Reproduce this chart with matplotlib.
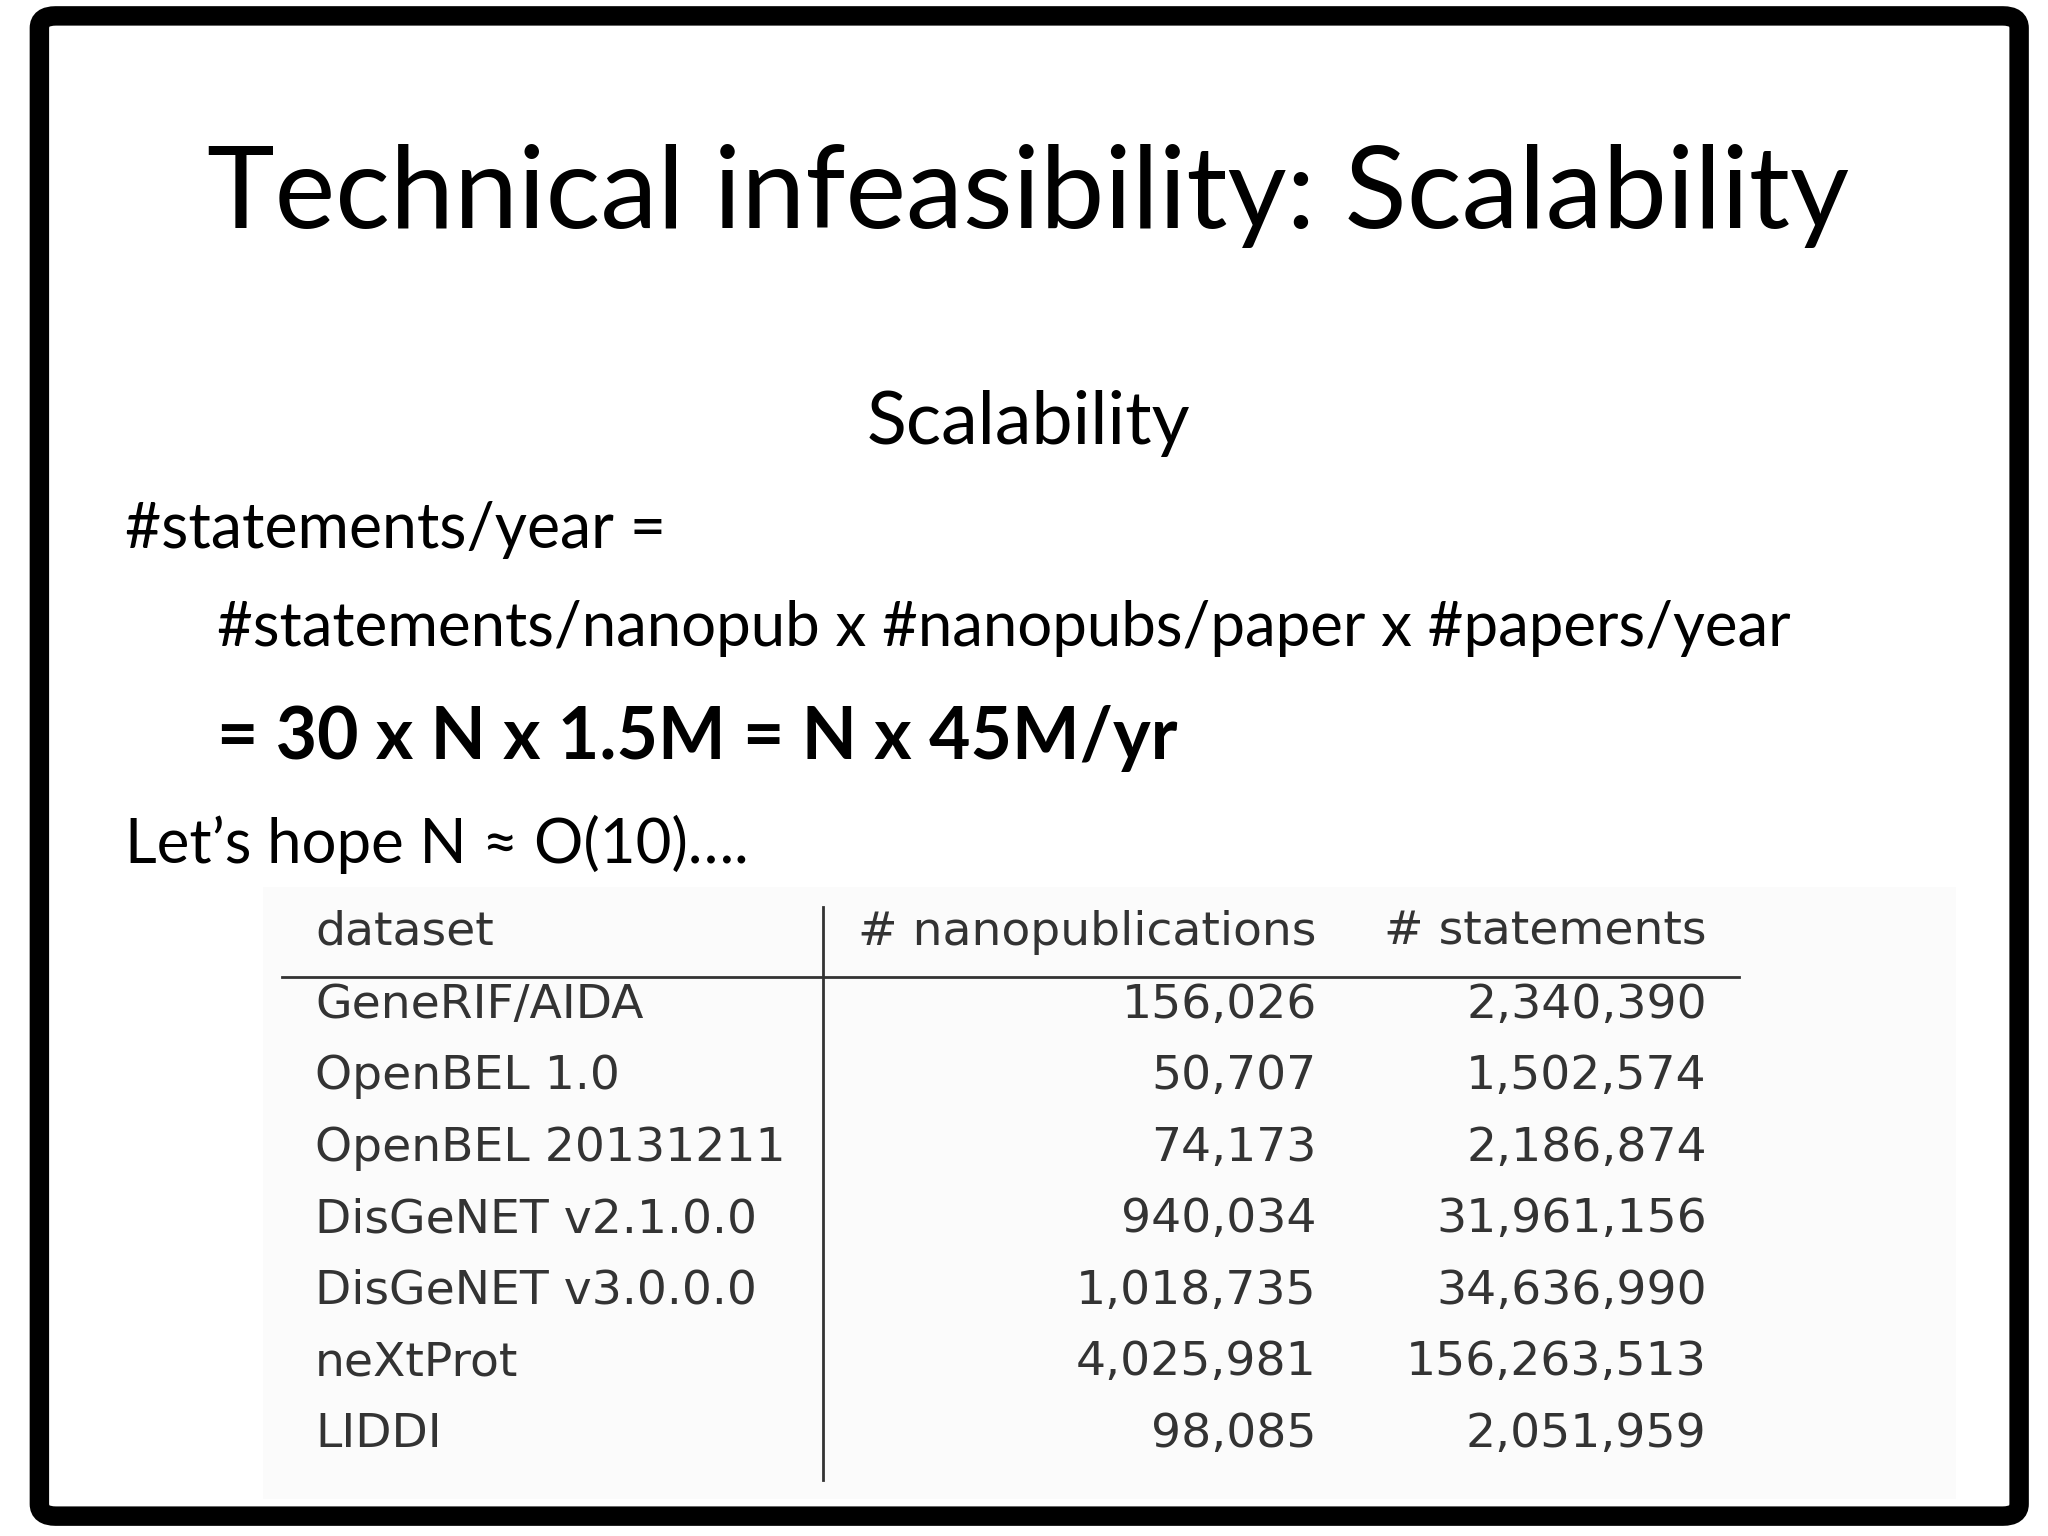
import matplotlib
matplotlib.use("Agg")
import matplotlib.pyplot as plt
from matplotlib.patches import FancyBboxPatch, Rectangle
from matplotlib.lines import Line2D

title = "Technical infeasibility: Scalability"
subtitle = "Scalability"
line1 = "#statements/year ="
line2 = "#statements/nanopub x #nanopubs/paper x #papers/year"
line3 = "= 30 x N x 1.5M = N x 45M/yr"
line4 = "Let\u2019s hope N \u2248 O(10)\u2026."

headers = ["dataset", "# nanopublications", "# statements"]
datasets = ["GeneRIF/AIDA", "OpenBEL 1.0", "OpenBEL 20131211", "DisGeNET v2.1.0.0",
            "DisGeNET v3.0.0.0", "neXtProt", "LIDDI"]
nanopubs = ["156,026", "50,707", "74,173", "940,034", "1,018,735", "4,025,981", "98,085"]
statements = ["2,340,390", "1,502,574", "2,186,874", "31,961,156", "34,636,990",
              "156,263,513", "2,051,959"]

fig = plt.figure(figsize=(20.48, 15.36), dpi=100)
fig.patch.set_facecolor("white")
H = 1160.0; W = 1560.0
def fx(x): return x / W
def fy(y): return 1 - y / H

fig.patches.append(FancyBboxPatch((fx(30), fy(1145)), fx(1508), 1133 / H,
                                  boxstyle="round,pad=0,rounding_size=0.008",
                                  transform=fig.transFigure, fill=False,
                                  edgecolor="black", linewidth=14))

sans = ["Lato", "DejaVu Sans"]
fig.text(fx(783), fy(148), title, ha="center", va="center", fontsize=82.5, family=sans)
fig.text(fx(783), fy(320), subtitle, ha="center", va="center", fontsize=53, family=sans)
fig.text(fx(95), fy(400), line1, ha="left", va="center", fontsize=45, family=sans)
fig.text(fx(165), fy(475), line2, ha="left", va="center", fontsize=44.5, family=sans)
fig.text(fx(165), fy(558), line3, ha="left", va="center", fontsize=51.5, family=sans,
         weight="bold")
fig.text(fx(95), fy(638), line4, ha="left", va="center", fontsize=44.5, family=sans)

# table
fig.patches.append(Rectangle((fx(200), fy(1132)), fx(1290), 462 / H,
                             transform=fig.transFigure, facecolor="#fbfbfb",
                             edgecolor="none", zorder=0))
tcol = "#333333"
tf = ["DejaVu Sans"]
fs = 34
hy = 704
fig.text(fx(240), fy(hy), headers[0], ha="left", va="center", fontsize=fs, color=tcol, family=tf)
fig.text(fx(1003), fy(hy), headers[1], ha="right", va="center", fontsize=fs, color=tcol, family=tf)
fig.text(fx(1300), fy(hy), headers[2], ha="right", va="center", fontsize=fs, color=tcol, family=tf)
fig.add_artist(Line2D([fx(215), fx(1325)], [fy(738), fy(738)], color=tcol, lw=2,
                      transform=fig.transFigure))
fig.add_artist(Line2D([fx(627), fx(627)], [fy(685), fy(1118)], color=tcol, lw=2,
                      transform=fig.transFigure))
for i, (d, n, s) in enumerate(zip(datasets, nanopubs, statements)):
    y = 759 + 54 * i
    fig.text(fx(240), fy(y), d, ha="left", va="center", fontsize=fs, color=tcol, family=tf)
    fig.text(fx(1003), fy(y), n, ha="right", va="center", fontsize=fs, color=tcol, family=tf)
    fig.text(fx(1300), fy(y), s, ha="right", va="center", fontsize=fs, color=tcol, family=tf)

fig.savefig("out.png", dpi=100)
